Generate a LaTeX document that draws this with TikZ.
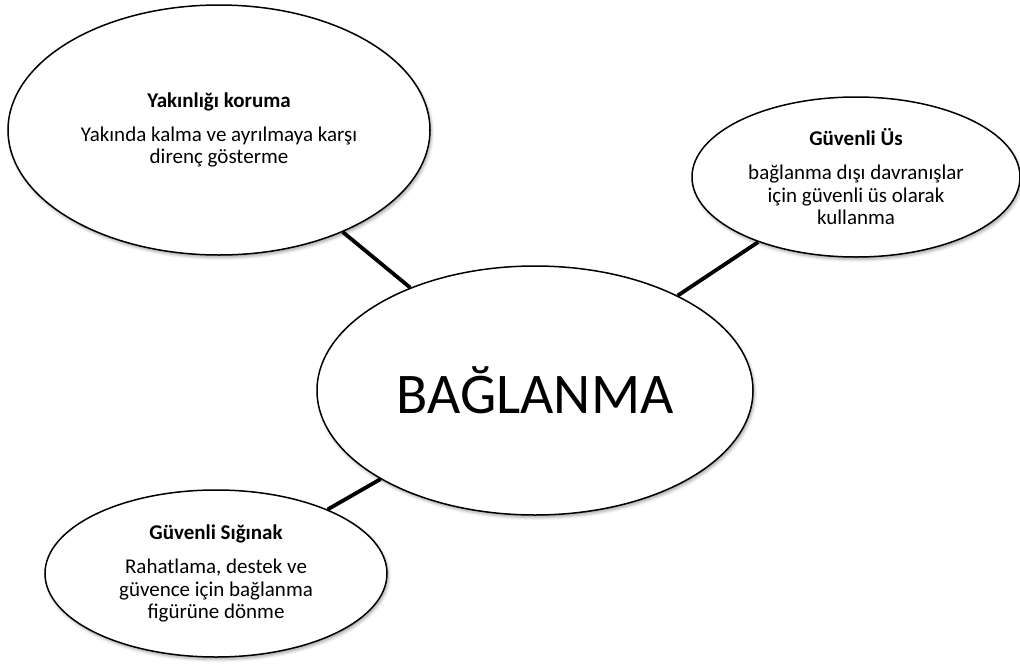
\documentclass[tikz,border=0pt]{standalone}
\usepackage{fontspec}
\setmainfont{Carlito}
\usetikzlibrary{shapes.geometric,shadows.blur}

\begin{document}
\begin{tikzpicture}[
  x=1pt,y=-1pt,
  bubble/.style={ellipse,draw=black,line width=1.5pt,fill=white,inner sep=0pt,align=center,
    font=\fontsize{21}{22.5}\selectfont,
    blur shadow={shadow xshift=1.5pt,shadow yshift=-2.5pt,shadow blur radius=3pt,shadow opacity=35}},
  link/.style={draw=black,line width=3.8pt},
]
\useasboundingbox (0,0) rectangle (1020,664);
% three functions round the central idea
\node[bubble,minimum width=422pt,minimum height=250pt] (yakin) at (219,130)
  {\textbf{Yakınlığı koruma}\\[11.5pt]Yakında kalma ve ayrılmaya karşı\\direnç gösterme};
\node[bubble,minimum width=328pt,minimum height=160pt] (us) at (856,177)
  {\textbf{Güvenli Üs}\\[11.5pt]bağlanma dışı davranışlar\\için güvenli üs olarak\\kullanma};
\node[bubble,minimum width=342pt,minimum height=167pt] (siginak) at (216,573.5)
  {\textbf{Güvenli Sığınak}\\[11.5pt]Rahatlama, destek ve\\güvence için bağlanma\\figürüne dönme};
\node[bubble,minimum width=436pt,minimum height=249pt,font=\fontsize{57.5}{60}\selectfont] (bag) at (535,390.5) {BAĞLANMA};

\draw[link] (yakin) -- (bag);
\draw[link] (us) -- (bag);
\draw[link] (siginak) -- (bag);
\end{tikzpicture}
\end{document}
